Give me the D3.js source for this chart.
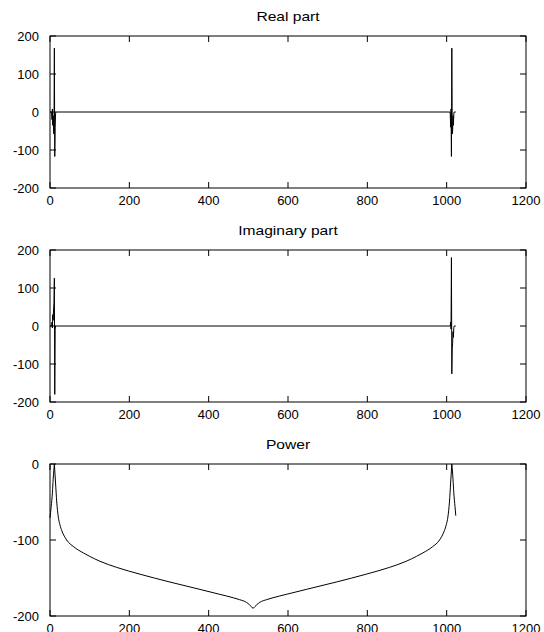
<!DOCTYPE html>
<html>
<head>
<meta charset="utf-8">
<script src="https://cdn.jsdelivr.net/npm/d3@7"></script>
<style>
  body { margin: 0; background: #fff; }
  svg text { font-family: "Liberation Sans", Arial, Helvetica, sans-serif; font-size: 13px; fill: #000; }
</style>
</head>
<body>
<div id="chart"></div>
<script>
// real part of the spectrum (bin index, value), zero elsewhere
const reIdx = [0, 4, 5, 6, 7, 8, 9, 10, 11, 12, 13, 14, 15,
  1008, 1009, 1010, 1011, 1012, 1013, 1014, 1015, 1016, 1017, 1018, 1019, 1023];
const reVal = [0, 0, -20, 8, -35, -10, -50, -58, 168, -117, -40, -5, 0,
  0, -5, -40, 8, -117, 168, -58, -50, -10, -35, -5, 0, 0];

// imaginary part
const imIdx = [0, 4, 5, 6, 7, 8, 9, 10, 11, 12, 13, 14, 15,
  1008, 1009, 1010, 1011, 1012, 1013, 1014, 1015, 1016, 1017, 1018, 1019, 1023];
const imVal = [0, 0, 10, -5, 30, 15, 45, 60, 126, -180, -10, 0, 0,
  0, 0, 10, -8, 180, -126, -60, -45, -15, -30, -5, 0, 0];

// power (dB)
const powIdx = [0, 3, 6, 8, 11, 14, 17, 21, 25, 30, 42, 60, 84, 100, 126, 168, 227, 300, 378, 428, 462, 478, 495, 512,
  529, 546, 562, 596, 646, 724, 797, 856, 898, 924, 940, 964, 982, 994, 999, 1003, 1007, 1010, 1013, 1016, 1018, 1021, 1023];
const powVal = [-71, -56, -38, -20, 0, -25, -50, -70, -80, -88, -100, -109, -117, -121.5, -128, -136, -145, -155, -165, -171.5, -176, -178.5, -182, -190,
  -182, -178.5, -176, -171.5, -165, -155, -145, -136, -128, -121.5, -117, -109, -100, -88, -80, -70, -50, -25, 0, -20, -38, -56, -68];
// cusps where the power curve changes direction
const powBreaks = [11, 512, 1013];

const xTicks = [0, 200, 400, 600, 800, 1000, 1200];

const width = 544;
const height = 632;
const left = 50, right = 526;
const tickLen = 6;

const svg = d3.select("#chart")
  .append("svg")
  .attr("width", width)
  .attr("height", height);

const x = d3.scaleLinear().domain([0, 1200]).range([left, right]);

function drawPanel(top, title, yDomain, yTicks, idx, vals, breaks) {
  const bottom = top + 152;
  const y = d3.scaleLinear().domain(yDomain).range([bottom, top]);
  const g = svg.append("g");

  // title (the original text is a bit stretched sideways)
  g.append("text")
    .attr("transform", `translate(${(left + right) / 2},${top - 15}) scale(1.2,1)`)
    .attr("text-anchor", "middle")
    .text(title);

  // data line, split into pieces at the cusps so the smoothing keeps them sharp
  const pts = idx.map((k, i) => [k, vals[i]]);
  const line = d3.line().x((d) => x(d[0])).y((d) => y(d[1]));
  let pieces = [pts];
  if (breaks) {
    line.curve(d3.curveMonotoneX);
    const cuts = [idx[0], ...breaks, idx[idx.length - 1]];
    pieces = d3.pairs(cuts).map(([a, b]) => pts.filter((p) => p[0] >= a && p[0] <= b));
  }
  g.selectAll(".series")
    .data(pieces)
    .join("path")
    .attr("class", "series")
    .attr("fill", "none")
    .attr("stroke", "#000")
    .attr("stroke-width", 1)
    .attr("d", line);

  // ticks, mirrored on all four sides
  const tk = g.append("g").attr("stroke", "#000").attr("stroke-width", 1);
  xTicks.forEach((t) => {
    tk.append("line").attr("x1", x(t)).attr("x2", x(t)).attr("y1", bottom).attr("y2", bottom - tickLen);
    tk.append("line").attr("x1", x(t)).attr("x2", x(t)).attr("y1", top).attr("y2", top + tickLen);
    g.append("text")
      .attr("x", x(t))
      .attr("y", bottom + 17)
      .attr("text-anchor", "middle")
      .text(t);
  });
  yTicks.forEach((t) => {
    tk.append("line").attr("x1", left).attr("x2", left + tickLen).attr("y1", y(t)).attr("y2", y(t));
    tk.append("line").attr("x1", right).attr("x2", right - tickLen).attr("y1", y(t)).attr("y2", y(t));
    g.append("text")
      .attr("x", left - 11)
      .attr("y", y(t))
      .attr("dy", "0.35em")
      .attr("text-anchor", "end")
      .text(t);
  });

  // frame
  g.append("rect")
    .attr("x", left)
    .attr("y", top)
    .attr("width", right - left)
    .attr("height", bottom - top)
    .attr("fill", "none")
    .attr("stroke", "#000")
    .attr("stroke-width", 1);
}

drawPanel(36, "Real part", [-200, 200], [-200, -100, 0, 100, 200], reIdx, reVal);
drawPanel(250, "Imaginary part", [-200, 200], [-200, -100, 0, 100, 200], imIdx, imVal);
drawPanel(464, "Power", [-200, 0], [-200, -100, 0], powIdx, powVal, powBreaks);
</script>
</body>
</html>
